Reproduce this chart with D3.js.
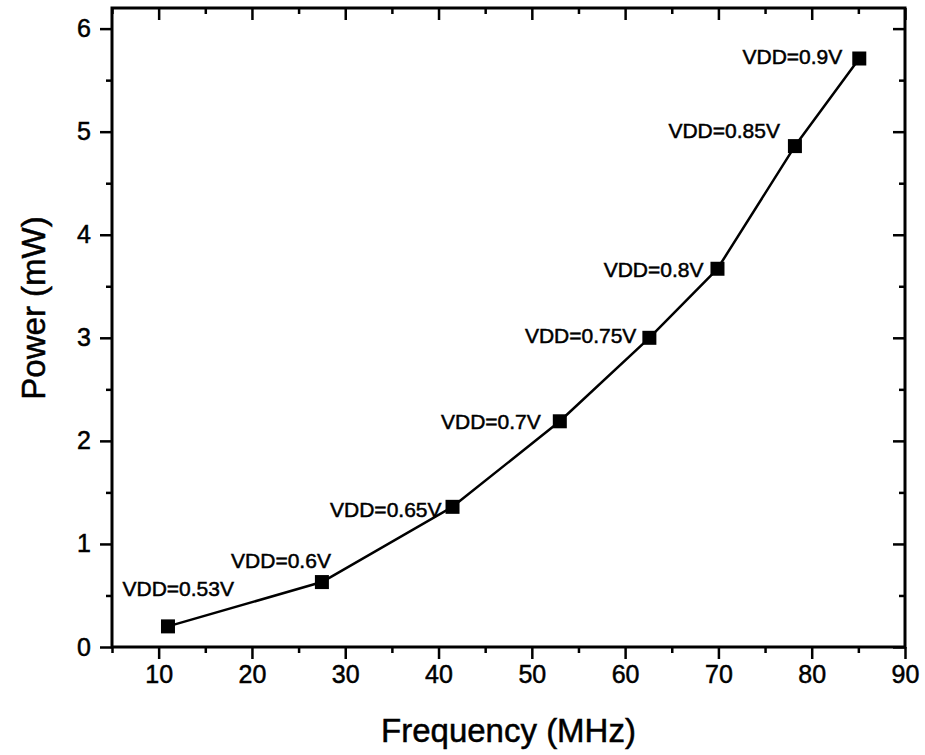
<!DOCTYPE html>
<html>
<head>
<meta charset="utf-8">
<script src="https://cdn.jsdelivr.net/npm/d3@7"></script>
<style>
	body { margin: 0; background: #fff; }
	svg text { font-family: "Liberation Sans", Arial, sans-serif; fill: #000; stroke: #000; stroke-width: 0.5px; }
</style>
</head>
<body>
<div id="graph"></div>
<script>
// data
var freq = [11.0, 27.5, 41.5, 53.0, 62.6, 69.9, 78.2, 85.1];
var power = [0.20, 0.63, 1.36, 2.19, 3.00, 3.67, 4.86, 5.71];
var vddLabels = ["VDD=0.53V", "VDD=0.6V", "VDD=0.65V", "VDD=0.7V", "VDD=0.75V", "VDD=0.8V", "VDD=0.85V", "VDD=0.9V"];
var xTicks = [10, 20, 30, 40, 50, 60, 70, 80, 90];
var yTicks = [0, 1, 2, 3, 4, 5, 6];

// where each label sits relative to its point (px, text anchored at end)
var labelOffset = [[66, -30], [9, -14], [-11, 10], [-19, 8], [-13, 5], [-14, 8], [-15, -8], [-17, 5]];

var SVGwidth = 925,
	SVGheight = 755,
	margin = {top: 8, right: 20, bottom: 108, left: 112},
	width = SVGwidth - margin.left - margin.right,
	height = SVGheight - margin.top - margin.bottom;

var svg = d3.select('div#graph')
	.append('svg')
	.attr('width', SVGwidth)
	.attr('height', SVGheight);

var g = svg.append("g").attr("transform", "translate(" + margin.left + "," + margin.top + ")");

var x = d3.scaleLinear().domain([5, 90]).range([0, width]);
var y = d3.scaleLinear().domain([0, 6.2]).range([height, 0]);

var xMinor = d3.range(5, 91, 5).filter(function(d) { return d % 10 != 0; });
var yMinor = d3.range(0.5, 6.2, 1);

function styleAxis(sel) {
	sel.select(".domain").remove();
	sel.selectAll(".tick line").attr("stroke", "#000").attr("stroke-width", 2.5);
	sel.selectAll(".tick text")
		.style("font-size", "25px");
}

// bottom axis, outward ticks
g.append("g")
	.attr("transform", "translate(0," + height + ")")
	.call(d3.axisBottom(x).tickValues(xTicks).tickSize(12).tickPadding(6).tickFormat(d3.format("d")))
	.call(styleAxis);
g.append("g")
	.attr("transform", "translate(0," + height + ")")
	.call(d3.axisBottom(x).tickValues(xMinor).tickSize(6).tickFormat(""))
	.call(styleAxis);

// left axis, outward ticks
g.append("g")
	.call(d3.axisLeft(y).tickValues(yTicks).tickSize(12).tickPadding(9).tickFormat(d3.format("d")))
	.call(styleAxis);
g.append("g")
	.call(d3.axisLeft(y).tickValues(yMinor).tickSize(6).tickFormat(""))
	.call(styleAxis);

// top and right mirrored ticks, pointing inward
g.append("g")
	.call(d3.axisTop(x).tickValues(xTicks).tickSize(-12).tickFormat(""))
	.call(styleAxis);
g.append("g")
	.call(d3.axisTop(x).tickValues(xMinor).tickSize(-6).tickFormat(""))
	.call(styleAxis);
g.append("g")
	.attr("transform", "translate(" + width + ",0)")
	.call(d3.axisRight(y).tickValues(yTicks).tickSize(-12).tickFormat(""))
	.call(styleAxis);
g.append("g")
	.attr("transform", "translate(" + width + ",0)")
	.call(d3.axisRight(y).tickValues(yMinor).tickSize(-6).tickFormat(""))
	.call(styleAxis);

// frame
g.append("rect")
	.attr("width", width)
	.attr("height", height)
	.attr("fill", "none")
	.attr("stroke", "#000")
	.attr("stroke-width", 3);

var points = freq.map(function(f, i) { return {f: f, p: power[i], label: vddLabels[i], off: labelOffset[i]}; });

var line = d3.line()
	.x(function(d) { return x(d.f); })
	.y(function(d) { return y(d.p); });

g.append("path")
	.datum(points)
	.attr("fill", "none")
	.attr("stroke", "#000")
	.attr("stroke-width", 2.5)
	.attr("stroke-linejoin", "round")
	.attr("d", line);

g.selectAll("rect.marker")
	.data(points)
	.enter()
	.append("rect")
	.attr("class", "marker")
	.attr("x", function(d) { return x(d.f) - 7; })
	.attr("y", function(d) { return y(d.p) - 7; })
	.attr("width", 14)
	.attr("height", 14)
	.attr("fill", "#000");

g.selectAll("text.vdd")
	.data(points)
	.enter()
	.append("text")
	.attr("class", "vdd")
	.attr("x", function(d) { return x(d.f) + d.off[0]; })
	.attr("y", function(d) { return y(d.p) + d.off[1]; })
	.attr("text-anchor", "end")
	.style("font-size", "21px")
	.text(function(d) { return d.label; });

// axis titles
svg.append("text")
	.attr("x", margin.left + width / 2)
	.attr("y", 742)
	.attr("text-anchor", "middle")
	.style("font-size", "33px")
	.text("Frequency (MHz)");

svg.append("text")
	.attr("transform", "translate(45,308) rotate(-90)")
	.attr("text-anchor", "middle")
	.style("font-size", "33px")
	.text("Power (mW)");
</script>
</body>
</html>
